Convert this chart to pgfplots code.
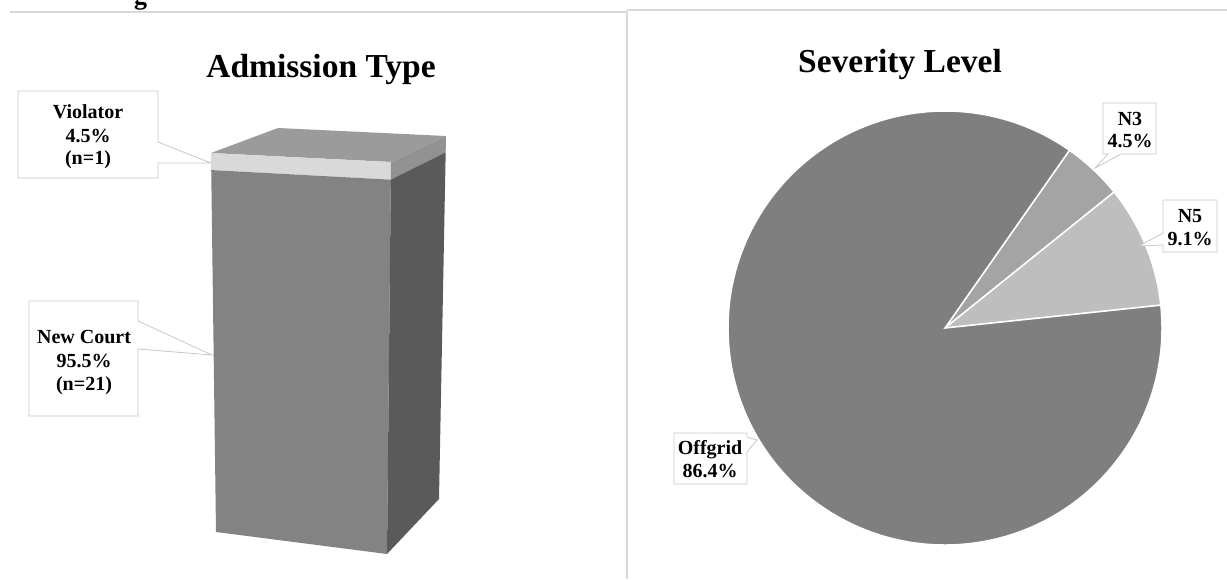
\documentclass[border=0pt]{standalone}
\usepackage{fontspec}
\setmainfont{Liberation Serif}
\usepackage{pgfplots}
\usepackage{pgfplotstable}
\pgfplotsset{compat=1.18}

% grey shades of the two panels
\definecolor{barTop}{HTML}{9B9B9B}
\definecolor{barBand}{HTML}{D9D9D9}
\definecolor{barFront}{HTML}{838383}
\definecolor{barSideBand}{HTML}{929292}
\definecolor{barSide}{HTML}{5A5A5A}
\definecolor{pieOff}{HTML}{7F7F7F}
\definecolor{pieNthree}{HTML}{A4A4A4}
\definecolor{pieNfive}{HTML}{BEBEBE}
\definecolor{boxLine}{HTML}{C8C8C8}
\definecolor{panelLine}{HTML}{D9D9D9}

% admission type, share in percent
\pgfplotstableread{
type value n
{New Court} 95.5 21
Violator 4.5 1
}\admission

% severity level, share in percent
\pgfplotstableread{
level value
N3 4.5
N5 9.1
Offgrid 86.4
}\severity

\pgfplotstablegetelem{0}{value}\of\admission \let\newcourt\pgfplotsretval
\pgfplotstablegetelem{1}{value}\of\admission \let\violator\pgfplotsretval
\pgfplotstablegetelem{0}{value}\of\severity \let\nthree\pgfplotsretval
\pgfplotstablegetelem{1}{value}\of\severity \let\nfive\pgfplotsretval
\pgfplotstablegetelem{2}{value}\of\severity \let\offgrid\pgfplotsretval

% stacked 3-D column: split of the faces at the violator share
\pgfmathsetmacro\fv{\violator/(\violator+\newcourt)}
\pgfmathsetmacro\xL{211+\fv*5}
\pgfmathsetmacro\yL{153+\fv*379}
\pgfmathsetmacro\xR{391-\fv*4}
\pgfmathsetmacro\yR{162+\fv*392}
\pgfmathsetmacro\xS{446-\fv*7}
\pgfmathsetmacro\yS{136+\fv*363}

% pie slices run clockwise from 55 degrees
\pgfmathsetmacro\aA{55}
\pgfmathsetmacro\aB{\aA-3.6*\nthree}
\pgfmathsetmacro\aC{\aB-3.6*\nfive}
\pgfmathsetmacro\aD{\aC-3.6*\offgrid}

\newcommand\titlefont{\fontsize{33.5}{40}\selectfont\bfseries}
\newcommand\labelfont{\fontsize{20}{23}\selectfont\bfseries}

\pgfplotsset{panel/.style={hide axis, scale only axis, height=579pt,
  ymin=0, ymax=579, y dir=reverse, clip=false, anchor=south west}}

\begin{document}
\begin{tikzpicture}
\useasboundingbox (0,0) rectangle (1227pt,579pt);

% ---------------- Admission Type ----------------
\begin{axis}[panel, width=627pt, xmin=0, xmax=627, at={(0pt,0pt)}]
  \draw[panelLine, line width=1.2pt] (10,12) -- (627,12) -- (627,579);
  \node[font=\fontsize{26}{30}\selectfont\bfseries, anchor=base west, inner sep=0pt] at (134,4.5) {g};
  \node[font=\titlefont, anchor=base] at (321,77) {Admission Type};

  % callout boxes
  \draw[boxLine, line width=0.8pt, fill=white] (18,91) -- (158,91) -- (158,142) -- (211,163) -- (158,163) -- (158,178) -- (18,178) -- cycle;
  \draw[boxLine, line width=0.8pt, fill=white] (29,301) -- (138,301) -- (138,321) -- (212,355) -- (138,349) -- (138,416) -- (29,416) -- cycle;

  % column faces
  \addplot[draw=none, fill=barTop] coordinates {(211,153) (278,128) (446,136) (391,162) (211,153)};
  \addplot[draw=none, fill=barBand] coordinates {(211,153) (391,162) (\xR,\yR) (\xL,\yL) (211,153)};
  \addplot[draw=none, fill=barFront] coordinates {(\xL,\yL) (\xR,\yR) (387,554) (216,532) (\xL,\yL)};
  \addplot[draw=none, fill=barSideBand] coordinates {(391,162) (446,136) (\xS,\yS) (\xR,\yR) (391,162)};
  \addplot[draw=none, fill=barSide] coordinates {(\xR,\yR) (\xS,\yS) (439,499) (387,554) (\xR,\yR)};

  \node[font=\labelfont, anchor=base] at (88,118) {Violator};
  \node[font=\labelfont, anchor=base] at (88,142) {4.5\%};
  \node[font=\labelfont, anchor=base] at (88,164) {(n=1)};
  \node[font=\labelfont, anchor=base] at (84,343) {New Court};
  \node[font=\labelfont, anchor=base] at (84,367) {95.5\%};
  \node[font=\labelfont, anchor=base] at (84,390) {(n=21)};
\end{axis}

% ---------------- Severity Level ----------------
\begin{axis}[panel, width=600pt, xmin=627, xmax=1227, at={(627pt,0pt)}]
  \draw[panelLine, line width=1.2pt] (627,10) -- (1227,10);
  \node[font=\titlefont, anchor=base] at (900,72) {Severity Level};

  \fill[pieNthree, draw=white, line width=1.5pt] (945,328) -- ++(\aA:217pt) arc[start angle=\aA, end angle=\aB, radius=217pt] -- cycle;
  \fill[pieNfive, draw=white, line width=1.5pt] (945,328) -- ++(\aB:217pt) arc[start angle=\aB, end angle=\aC, radius=217pt] -- cycle;
  \fill[pieOff, draw=white, line width=1.5pt] (945,328) -- ++(\aC:217pt) arc[start angle=\aC, end angle=\aD, radius=217pt] -- cycle;

  % callout boxes
  \draw[boxLine, line width=0.8pt, fill=white] (1103,103) -- (1156,103) -- (1156,154) -- (1121,154) -- (1095,168) -- (1108,154) -- (1103,154) -- cycle;
  \draw[boxLine, line width=0.8pt, fill=white] (1163,200) -- (1217,200) -- (1217,252) -- (1163,252) -- (1163,245) -- (1139,246) -- (1163,233) -- cycle;
  \draw[boxLine, line width=0.8pt, fill=white] (674,433) -- (747,433) -- (747,437) -- (757,440) -- (747,452) -- (747,484) -- (674,484) -- cycle;

  \node[font=\labelfont, anchor=base] at (1130,125) {N3};
  \node[font=\labelfont, anchor=base] at (1130,147) {4.5\%};
  \node[font=\labelfont, anchor=base] at (1190,222) {N5};
  \node[font=\labelfont, anchor=base] at (1190,245) {9.1\%};
  \node[font=\labelfont, anchor=base] at (710,454) {Offgrid};
  \node[font=\labelfont, anchor=base] at (710,477) {86.4\%};
\end{axis}
\end{tikzpicture}
\end{document}
